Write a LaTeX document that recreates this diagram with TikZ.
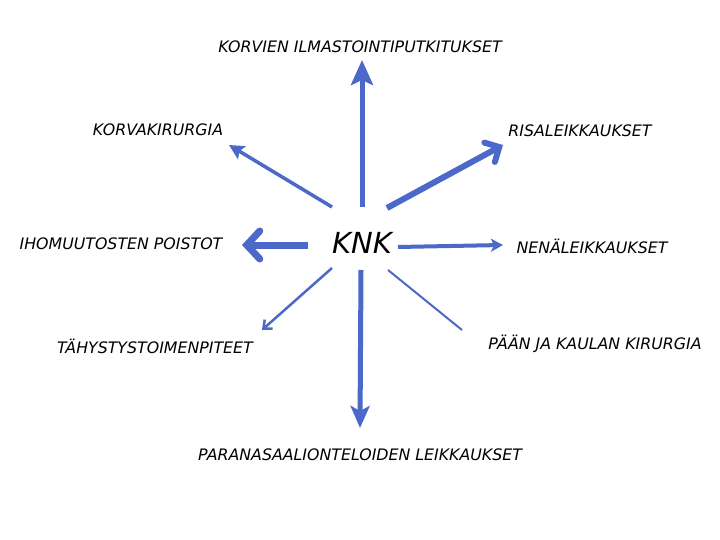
\documentclass[tikz,border=0pt]{standalone}
\usepackage{fontspec}
\setmainfont{DejaVu Sans}
\usetikzlibrary{arrows.meta}
\definecolor{arr}{RGB}{76,104,200}
\tikzset{
  lbl/.style={font=\fontsize{15.8}{17}\selectfont\itshape, inner sep=0pt, anchor=center},
  con/.style={draw=arr, line cap=butt},
}
\begin{document}
\begin{tikzpicture}[x=1pt,y=-1pt]
\useasboundingbox (0,0) rectangle (720,540);
% labels
\node[lbl] (top) at (360,47) {KORVIEN ILMASTOINTIPUTKITUKSET};
\node[lbl] (korva) at (158,130) {KORVAKIRURGIA};
\node[lbl] (risa) at (580,131) {RISALEIKKAUKSET};
\node[lbl] (iho) at (121,244) {IHOMUUTOSTEN POISTOT};
\node[lbl] (nena) at (592,246) {NENÄLEIKKAUKSET};
\node[lbl] (tahy) at (155,346) {TÄHYSTYSTOIMENPITEET};
\node[lbl] (paan) at (595,344) {PÄÄN JA KAULAN KIRURGIA};
\node[lbl] (para) at (360,455) {PARANASAALIONTELOIDEN LEIKKAUKSET};
\node[font=\fontsize{29}{32}\selectfont\itshape, inner sep=0pt] (knk) at (362,243) {KNK};
% connector ends
\coordinate (uS) at (362,207); \coordinate (uE) at (362,60);
\coordinate (dS) at (361,270); \coordinate (dE) at (360,428);
\coordinate (nwS) at (332,207); \coordinate (nwE) at (229,145);
\coordinate (neS) at (387,208); \coordinate (neE) at (503,145);
\coordinate (wS) at (308,245); \coordinate (wE) at (242,245);
\coordinate (eS) at (398,247); \coordinate (eE) at (503,245);
\coordinate (seS) at (388,270); \coordinate (seE) at (462,330);
\coordinate (swS) at (332,268); \coordinate (swE) at (262,330);
% connectors
\draw[con, line width=5pt, -{Stealth[length=25pt,width=22pt,inset=5pt]}] (uS) -- (uE);
\draw[con, line width=5pt, -{Stealth[length=22pt,width=19pt,inset=5pt]}] (dS) -- (dE);
\draw[con, line width=3.5pt, -{Stealth[length=15pt,width=15pt,inset=3pt]}] (nwS) -- (nwE);
\draw[con, line width=6pt, -{Straight Barb[length=11pt,width=22pt,line cap=round]}] (neS) -- (neE);
\draw[con, line width=7pt, -{Straight Barb[length=13pt,width=28pt,line cap=round]}] (wS) -- (wE);
\draw[con, line width=4pt, -{Stealth[length=12pt,width=13pt,inset=3pt]}] (eS) -- (eE);
\draw[con, line width=2pt] (seS) -- (seE);
\draw[con, line width=2.5pt, -{Straight Barb[length=7pt,width=12pt]}] (swS) -- (swE);
\end{tikzpicture}
\end{document}
